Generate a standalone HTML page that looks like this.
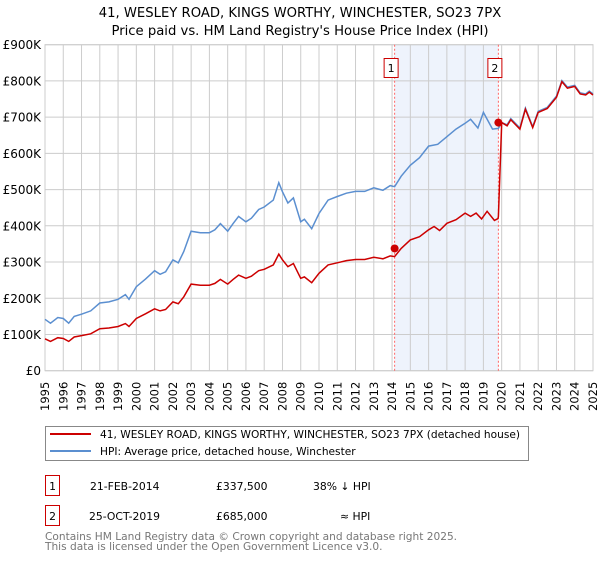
<!DOCTYPE html>
<html><head><meta charset="utf-8"><style>
body{margin:0;background:#fff;font-family:"Liberation Sans","DejaVu Sans",sans-serif;}
svg text{font-family:"DejaVu Sans","Liberation Sans",sans-serif;}
</style></head><body>
<svg id="chart" width="600" height="560" xmlns="http://www.w3.org/2000/svg">
<text x="300" y="17" text-anchor="middle" font-size="13.2" fill="#000">41, WESLEY ROAD, KINGS WORTHY, WINCHESTER, SO23 7PX</text>
<text x="300" y="35" text-anchor="middle" font-size="13.2" fill="#000">Price paid vs. HM Land Registry's House Price Index (HPI)</text>
<g id="plot"></g>
<g>
<rect x="45.5" y="426.5" width="483" height="34" fill="#fff" stroke="#888"/>
<line x1="50" y1="434" x2="91" y2="434" stroke="#cc0000" stroke-width="2"/>
<text x="100" y="438" font-size="10.6">41, WESLEY ROAD, KINGS WORTHY, WINCHESTER, SO23 7PX (detached house)</text>
<line x1="50" y1="451" x2="91" y2="451" stroke="#5b8fd0" stroke-width="2"/>
<text x="100" y="455" font-size="10.6">HPI: Average price, detached house, Winchester</text>
</g>
<g font-size="10.8">
<rect x="45.5" y="475.5" width="14" height="20" fill="#fff" stroke="#cc0000"/>
<text x="52.5" y="490" text-anchor="middle">1</text>
<text x="90" y="490">21-FEB-2014</text>
<text x="216" y="490">£337,500</text>
<text x="313" y="490">38% ↓ HPI</text>
<rect x="45.5" y="505.5" width="14" height="20" fill="#fff" stroke="#cc0000"/>
<text x="52.5" y="520" text-anchor="middle">2</text>
<text x="89" y="520">25-OCT-2019</text>
<text x="216" y="520">£685,000</text>
<text x="340" y="520">≈ HPI</text>
</g>
<g font-size="10.6" fill="#777">
<text x="45" y="540">Contains HM Land Registry data © Crown copyright and database right 2025.</text>
<text x="45" y="550">This data is licensed under the Open Government Licence v3.0.</text>
</g>
</svg>
<script>
const yTicks=[0,100,200,300,400,500,600,700,800,900];
const yTickLabels=["£0","£100K","£200K","£300K","£400K","£500K","£600K","£700K","£800K","£900K"];
const xYears=[1995,1996,1997,1998,1999,2000,2001,2002,2003,2004,2005,2006,2007,2008,2009,2010,2011,2012,2013,2014,2015,2016,2017,2018,2019,2020,2021,2022,2023,2024,2025];
const redYears=[1995,1995.3,1995.7,1996,1996.3,1996.6,1997,1997.5,1998,1998.5,1999,1999.4,1999.6,2000,2000.5,2001,2001.3,2001.6,2002,2002.3,2002.6,2003,2003.5,2004,2004.3,2004.6,2005,2005.3,2005.6,2006,2006.3,2006.7,2007,2007.5,2007.8,2008,2008.3,2008.6,2009,2009.2,2009.6,2010,2010.5,2011,2011.5,2012,2012.5,2013,2013.5,2013.9,2014.14,2014.5,2015,2015.5,2016,2016.3,2016.6,2017,2017.5,2018,2018.3,2018.6,2018.9,2019.2,2019.6,2019.8,2019.82,2020,2020.3,2020.5,2021,2021.3,2021.7,2022,2022.5,2023,2023.3,2023.6,2024,2024.3,2024.6,2024.8,2025];
const redValues=[88,81,91,89,81,93,97,102,116,118,122,130,122,144,157,171,165,169,190,185,204,239,236,236,241,252,239,252,264,255,261,276,280,292,322,306,287,296,255,259,243,269,292,298,304,307,307,313,309,317,315,337.5,361,370,389,398,387,407,417,435,426,435,419,440,415,420,426,685,676,693,667,722,671,713,724,755,798,780,785,764,761,769,761,798];
const blueYears=[1995,1995.3,1995.7,1996,1996.3,1996.6,1997,1997.5,1998,1998.5,1999,1999.4,1999.6,2000,2000.5,2001,2001.3,2001.6,2002,2002.3,2002.6,2003,2003.5,2004,2004.3,2004.6,2005,2005.3,2005.6,2006,2006.3,2006.7,2007,2007.5,2007.8,2008,2008.3,2008.6,2009,2009.2,2009.6,2010,2010.5,2011,2011.5,2012,2012.5,2013,2013.5,2013.9,2014.14,2014.5,2015,2015.5,2016,2016.5,2017,2017.5,2018,2018.3,2018.7,2019,2019.5,2019.82,2020,2020.3,2020.5,2021,2021.3,2021.7,2022,2022.5,2023,2023.3,2023.6,2024,2024.3,2024.6,2024.8,2025];
const blueValues=[142,131,147,144,131,150,156,165,187,190,197,210,197,232,253,276,266,273,306,298,329,385,381,381,389,406,385,406,426,411,421,445,452,471,519,494,463,477,411,418,392,434,471,481,490,495,495,505,498,511,508,537,567,588,620,625,646,667,683,694,670,713,667,669,685,679,696,670,725,674,716,727,758,801,783,788,767,764,772,764,801];
const sales=[{n:"1",year:2014.14,value:337.5},{n:"2",year:2019.82,value:685}];
const X0=45,X1=593,Y0=370.7,Y1=44.7;
function xs(y){return X0+(y-1995)/(30)*(X1-X0);}
function ys(v){return Y0-v/900*(Y0-Y1);}
const NS="http://www.w3.org/2000/svg";
const plot=document.getElementById('plot');
function mk(tag,attrs,parent){const e=document.createElementNS(NS,tag);for(const k in attrs)e.setAttribute(k,attrs[k]);(parent||plot).appendChild(e);return e;}
const band=mk('rect',{x:xs(sales[0].year),y:Y1,width:xs(sales[1].year)-xs(sales[0].year),height:Y0-Y1,fill:'#eef3fc'});


xYears.forEach(yr=>{
 const l=mk('line',{x1:xs(yr),x2:xs(yr),y1:Y1,y2:Y0,stroke:'#cccccc','stroke-width':1});
 
 
 const t=mk('text',{x:0,y:0,'font-size':11.5,'text-anchor':'end',transform:`translate(${xs(yr)+4},${Y0+11}) rotate(-90)`});
 t.textContent=yr;
 
 
});
yTicks.forEach((v,i)=>{
 const l=mk('line',{x1:X0,x2:X1,y1:ys(v),y2:ys(v),stroke:'#cccccc','stroke-width':1});
 
 
 const t=mk('text',{x:X0-4,y:ys(v)+4.5,'font-size':12,'text-anchor':'end'});
 t.textContent=yTickLabels[i];
 
 
});
const frame=mk('rect',{x:X0,y:Y1,width:X1-X0,height:Y0-Y1,fill:'none',stroke:'#cccccc'});


sales.forEach(s=>{
 const l=mk('line',{x1:xs(s.year),x2:xs(s.year),y1:Y1,y2:Y0,stroke:'#ff6666','stroke-width':1,'stroke-dasharray':'2,2'});
 
 
});
function path(xa,va){return xa.map((y,i)=>(i?'L':'M')+xs(y).toFixed(1)+','+ys(va[i]).toFixed(1)).join(' ');}
const bl=mk('path',{d:path(blueYears,blueValues),fill:'none',stroke:'#5b8fd0','stroke-width':1.5});


const rl=mk('path',{d:path(redYears,redValues),fill:'none',stroke:'#cc0000','stroke-width':1.5});


sales.forEach(s=>{
 const c=mk('circle',{cx:xs(s.year),cy:ys(s.value),r:4,fill:'#cc0000'});
 
 
 const b=mk('rect',{x:xs(s.year)-10.5,y:58.5,width:14,height:19,fill:'#fff',stroke:'#cc0000'});
 
 
 const t=mk('text',{x:xs(s.year)-3.5,y:72,'font-size':11,'text-anchor':'middle'});
 t.textContent=s.n;
 
 
});
</script>
</body></html>
